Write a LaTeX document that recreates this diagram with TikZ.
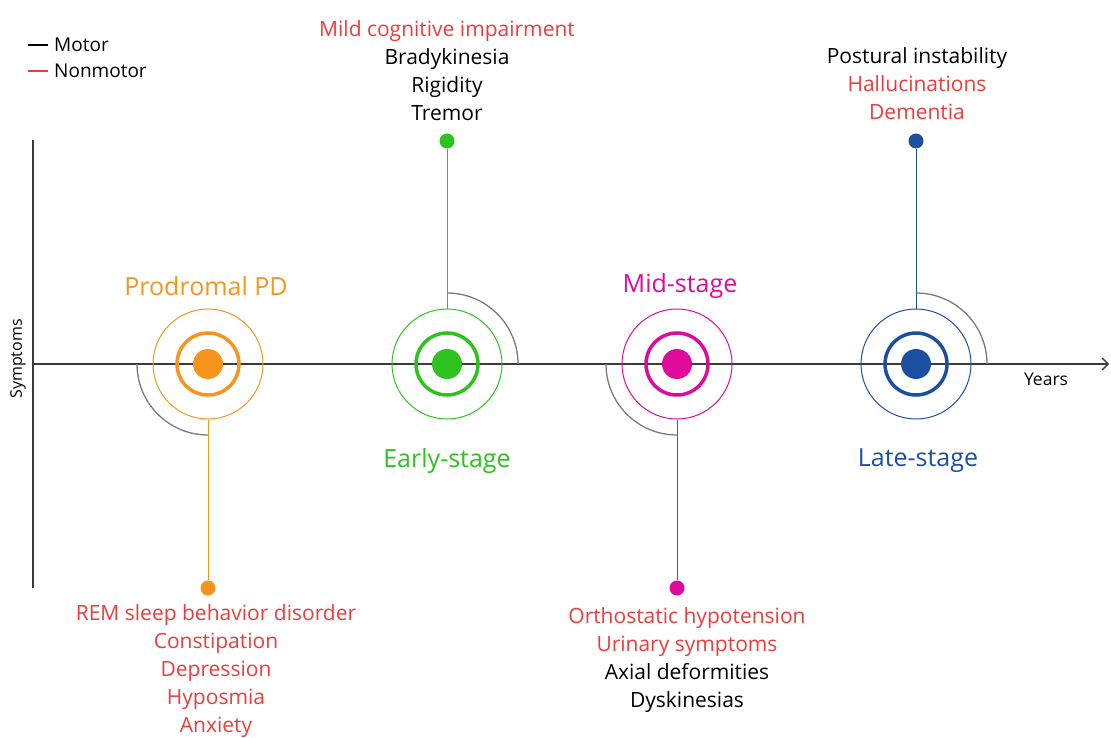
\documentclass[tikz,border=0pt]{standalone}
\usepackage{fontspec}
\setmainfont{Open Sans}
\usetikzlibrary{arrows.meta}
\definecolor{cOr}{HTML}{F7941D}
\definecolor{cGr}{HTML}{2EC21E}
\definecolor{cMa}{HTML}{DE0A9C}
\definecolor{cBl}{HTML}{1C4FA0}
\definecolor{cRd}{HTML}{EE3B3B}
\definecolor{cAx}{HTML}{3A3A3A}
\definecolor{cArc}{HTML}{7A7A7A}
\begin{document}
\begin{tikzpicture}[x=1pt,y=-1pt,
  outer/.style={circle,draw=#1,line width=1pt,minimum size=110pt,inner sep=0pt},
  ring/.style={circle,draw=#1,line width=3.5pt,minimum size=62pt,inner sep=0pt},
  core/.style={circle,fill=#1,minimum size=30pt,inner sep=0pt},
  pin/.style={circle,fill=#1,minimum size=15pt,inner sep=0pt},
  stem/.style={draw=#1,line width=1pt},
  garc/.style={draw=cArc,line width=1.3pt},
  stagelbl/.style={font=\fontsize{25}{28}\selectfont,text=#1},
  sym/.style={font=\fontsize{21}{28}\selectfont,align=center,inner sep=0pt},
  axis/.style={draw=cAx,line width=1.4pt}]
\useasboundingbox (0,0) rectangle (1111,738);
% axes
\coordinate (o) at (33,364);
\coordinate (xe) at (1109,364);
\coordinate (yt) at (33,140);
\coordinate (yb) at (33,588);
\draw[axis] (yt) -- (yb);
\draw[axis,-{Straight Barb[length=6pt,width=12pt]}] (o) -- (xe);
\node[rotate=90,font=\fontsize{16}{18}\selectfont] (ylab) at (18,359) {Symptoms};
\node[font=\fontsize{17.5}{20}\selectfont] (xlab) at (1046,379) {Years};
% legend
\coordinate (l1a) at (28,45); \coordinate (l1b) at (48,45);
\coordinate (l2a) at (28,71); \coordinate (l2b) at (48,71);
\draw[line width=1.8pt,black] (l1a) -- (l1b);
\draw[line width=1.8pt,cRd] (l2a) -- (l2b);
\node[anchor=west,font=\fontsize{19}{22}\selectfont,inner sep=0pt] (lm) at (54,45) {Motor};
\node[anchor=west,font=\fontsize{19}{22}\selectfont,inner sep=0pt] (ln) at (54,71) {Nonmotor};
% Prodromal
\node[outer=cOr] (p) at (208,364) {};
\node[ring=cOr] (pr) at (208,364) {};
\node[core=cOr] (pc) at (208,364) {};
\node[pin=cOr] (pd) at (208,588) {};
\draw[stem=cOr] (p.south) -- (pd);
\draw[garc] (137,364) arc[start angle=180,end angle=90,radius=71];
\node[stagelbl=cOr] (pl) at (206,286) {Prodromal PD};
\node[sym,text=cRd] (ps) at (216,671) {REM sleep behavior disorder\\Constipation\\Depression\\Hyposmia\\Anxiety};
% Early
\node[outer=cGr] (e) at (447,364) {};
\node[ring=cGr] (er) at (447,364) {};
\node[core=cGr] (ec) at (447,364) {};
\node[pin=cGr] (ed) at (447,141) {};
\draw[stem=cGr] (e.north) -- (ed);
\draw[garc] (447,293) arc[start angle=270,end angle=360,radius=71];
\node[stagelbl=cGr] (el) at (447,461) {Early-stage};
\node[sym] (es) at (447,71) {\textcolor{cRd}{Mild cognitive impairment}\\Bradykinesia\\Rigidity\\Tremor};
% Mid
\node[outer=cMa] (m) at (677,364) {};
\node[ring=cMa] (mr) at (677,364) {};
\node[core=cMa] (mc) at (677,364) {};
\node[pin=cMa] (md) at (677,588) {};
\draw[stem=cMa] (m.south) -- (md);
\draw[garc] (606,364) arc[start angle=180,end angle=90,radius=71];
\node[stagelbl=cMa] (ml) at (680,286) {Mid-stage};
\node[sym] (ms) at (687,660) {\textcolor{cRd}{Orthostatic hypotension}\\\textcolor{cRd}{Urinary symptoms}\\Axial deformities\\Dyskinesias};
% Late
\node[outer=cBl] (t) at (916,364) {};
\node[ring=cBl] (tr) at (916,364) {};
\node[core=cBl] (tc) at (916,364) {};
\node[pin=cBl] (td) at (916,141) {};
\draw[stem=cBl] (t.north) -- (td);
\draw[garc] (916,293) arc[start angle=270,end angle=360,radius=71];
\node[stagelbl=cBl] (tl) at (918,461) {Late-stage};
\node[sym] (ts) at (917,84) {Postural instability\\\textcolor{cRd}{Hallucinations}\\\textcolor{cRd}{Dementia}};
\end{tikzpicture}
\end{document}
